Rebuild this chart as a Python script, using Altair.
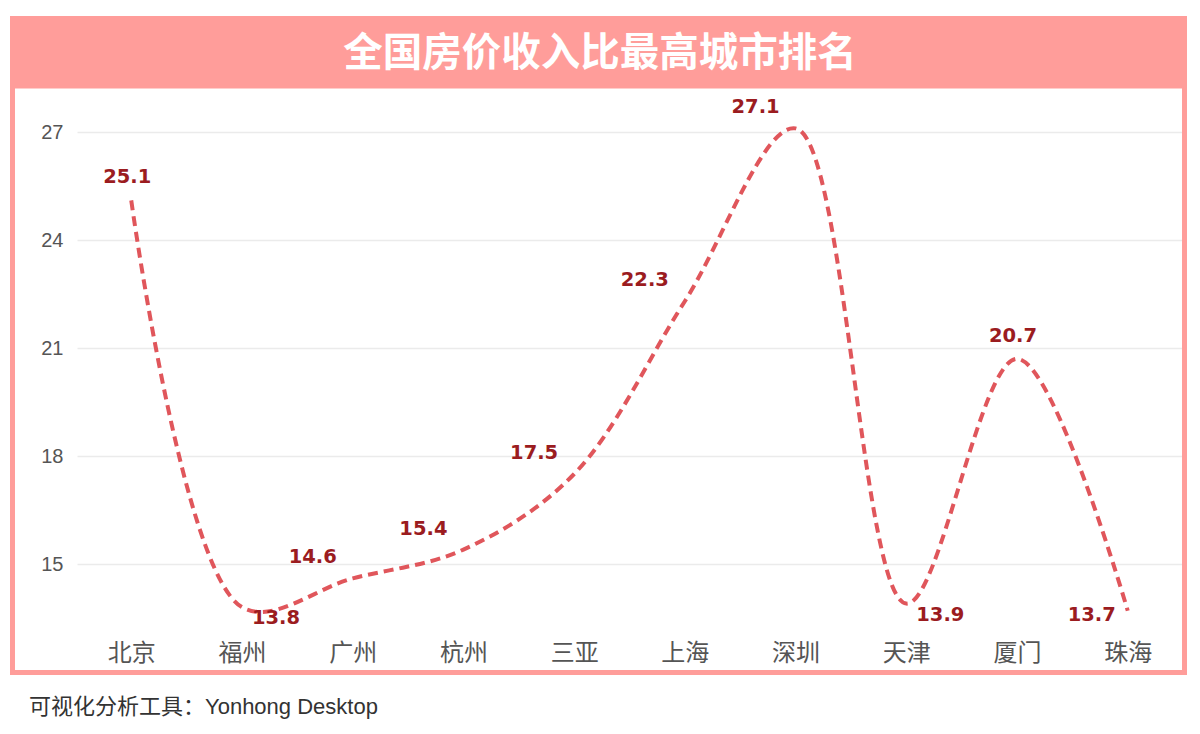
import altair as alt
import pandas as pd

cities = ["北京", "福州", "广州", "杭州", "三亚", "上海", "深圳", "天津", "厦门", "珠海"]
ratios = [25.1, 13.8, 14.6, 15.4, 17.5, 22.3, 27.1, 13.9, 20.7, 13.7]
y_ticks = [15, 18, 21, 24, 27]
title_text = "全国房价收入比最高城市排名"
footer_text = "可视化分析工具：Yonhong Desktop"

df = pd.DataFrame({"city": cities, "ratio": ratios})
one = alt.Data(values=[{"k": 0}])

PINK = "#FF9D9A"
LINE = "#E0565B"
LABEL = "#9B1C1F"
W, H = 1105, 540

x_enc = alt.X(
    "city:N", sort=cities,
    scale=alt.Scale(type="point", padding=0.49),
    axis=alt.Axis(title=None, labelAngle=0, labelFontSize=24, labelColor="#555555",
                  labelFont="Noto Sans CJK SC", labelPadding=5, ticks=False,
                  domain=False, grid=False),
)
y_enc = alt.Y(
    "ratio:Q",
    scale=alt.Scale(domain=[13, 28], nice=False, zero=False),
    axis=alt.Axis(title=None, values=y_ticks, labelFontSize=20, labelColor="#555555",
                  labelFont="Liberation Sans", labelPadding=14, ticks=False,
                  domain=False, grid=True, gridColor="#EBEBEB", gridWidth=1.5),
)

frame = alt.Chart(one).mark_rect(filled=False, color=PINK, strokeWidth=5).encode(
    x=alt.value(-64.5), x2=alt.value(1107.5), y=alt.value(-60), y2=alt.value(576.5)
)
band = alt.Chart(one).mark_rect(color=PINK).encode(
    x=alt.value(-67), x2=alt.value(1110), y=alt.value(-80), y2=alt.value(-7.5)
)
title = alt.Chart(one).mark_text(
    text=title_text, fontSize=39.5, fontWeight="bold", color="white",
    font="Noto Sans CJK SC", align="center", baseline="middle"
).encode(x=alt.value(523), y=alt.value(-42))
footer = alt.Chart(one).mark_text(
    text=footer_text, fontSize=22, color="#333333",
    font="Liberation Sans, Noto Sans CJK SC", align="left", baseline="middle"
).encode(x=alt.value(-48), y=alt.value(611))

base = alt.Chart(df)
line = base.mark_line(color=LINE, strokeWidth=4, strokeDash=[10, 6],
                      interpolate="catmull-rom").encode(x=x_enc, y=y_enc)


def labels(group, dx, dy):
    return base.transform_filter(
        alt.FieldOneOfPredicate(field="city", oneOf=group)
    ).mark_text(
        fontSize=19.5, fontWeight="bold", color=LABEL, font="DejaVu Sans",
        dx=dx, dy=dy, align="center", baseline="middle"
    ).encode(x=x_enc, y=y_enc, text=alt.Text("ratio:Q", format=".1f"))


lab_a = labels(["广州", "杭州", "三亚", "上海", "深圳"], -40, -21)
lab_b = labels(["北京", "厦门"], -4, -23)
lab_c = labels(["福州", "天津"], 34, 11)
lab_d = labels(["珠海"], -36, 4)

chart = alt.layer(frame, band, title, line, lab_a, lab_b, lab_c, lab_d, footer).properties(
    width=W, height=H,
    padding={"left": 2, "top": 8, "right": 5, "bottom": 5},
    background="white",
).configure_view(stroke=None)

chart.save("out.html", embed_options={"renderer": "svg", "actions": False})
